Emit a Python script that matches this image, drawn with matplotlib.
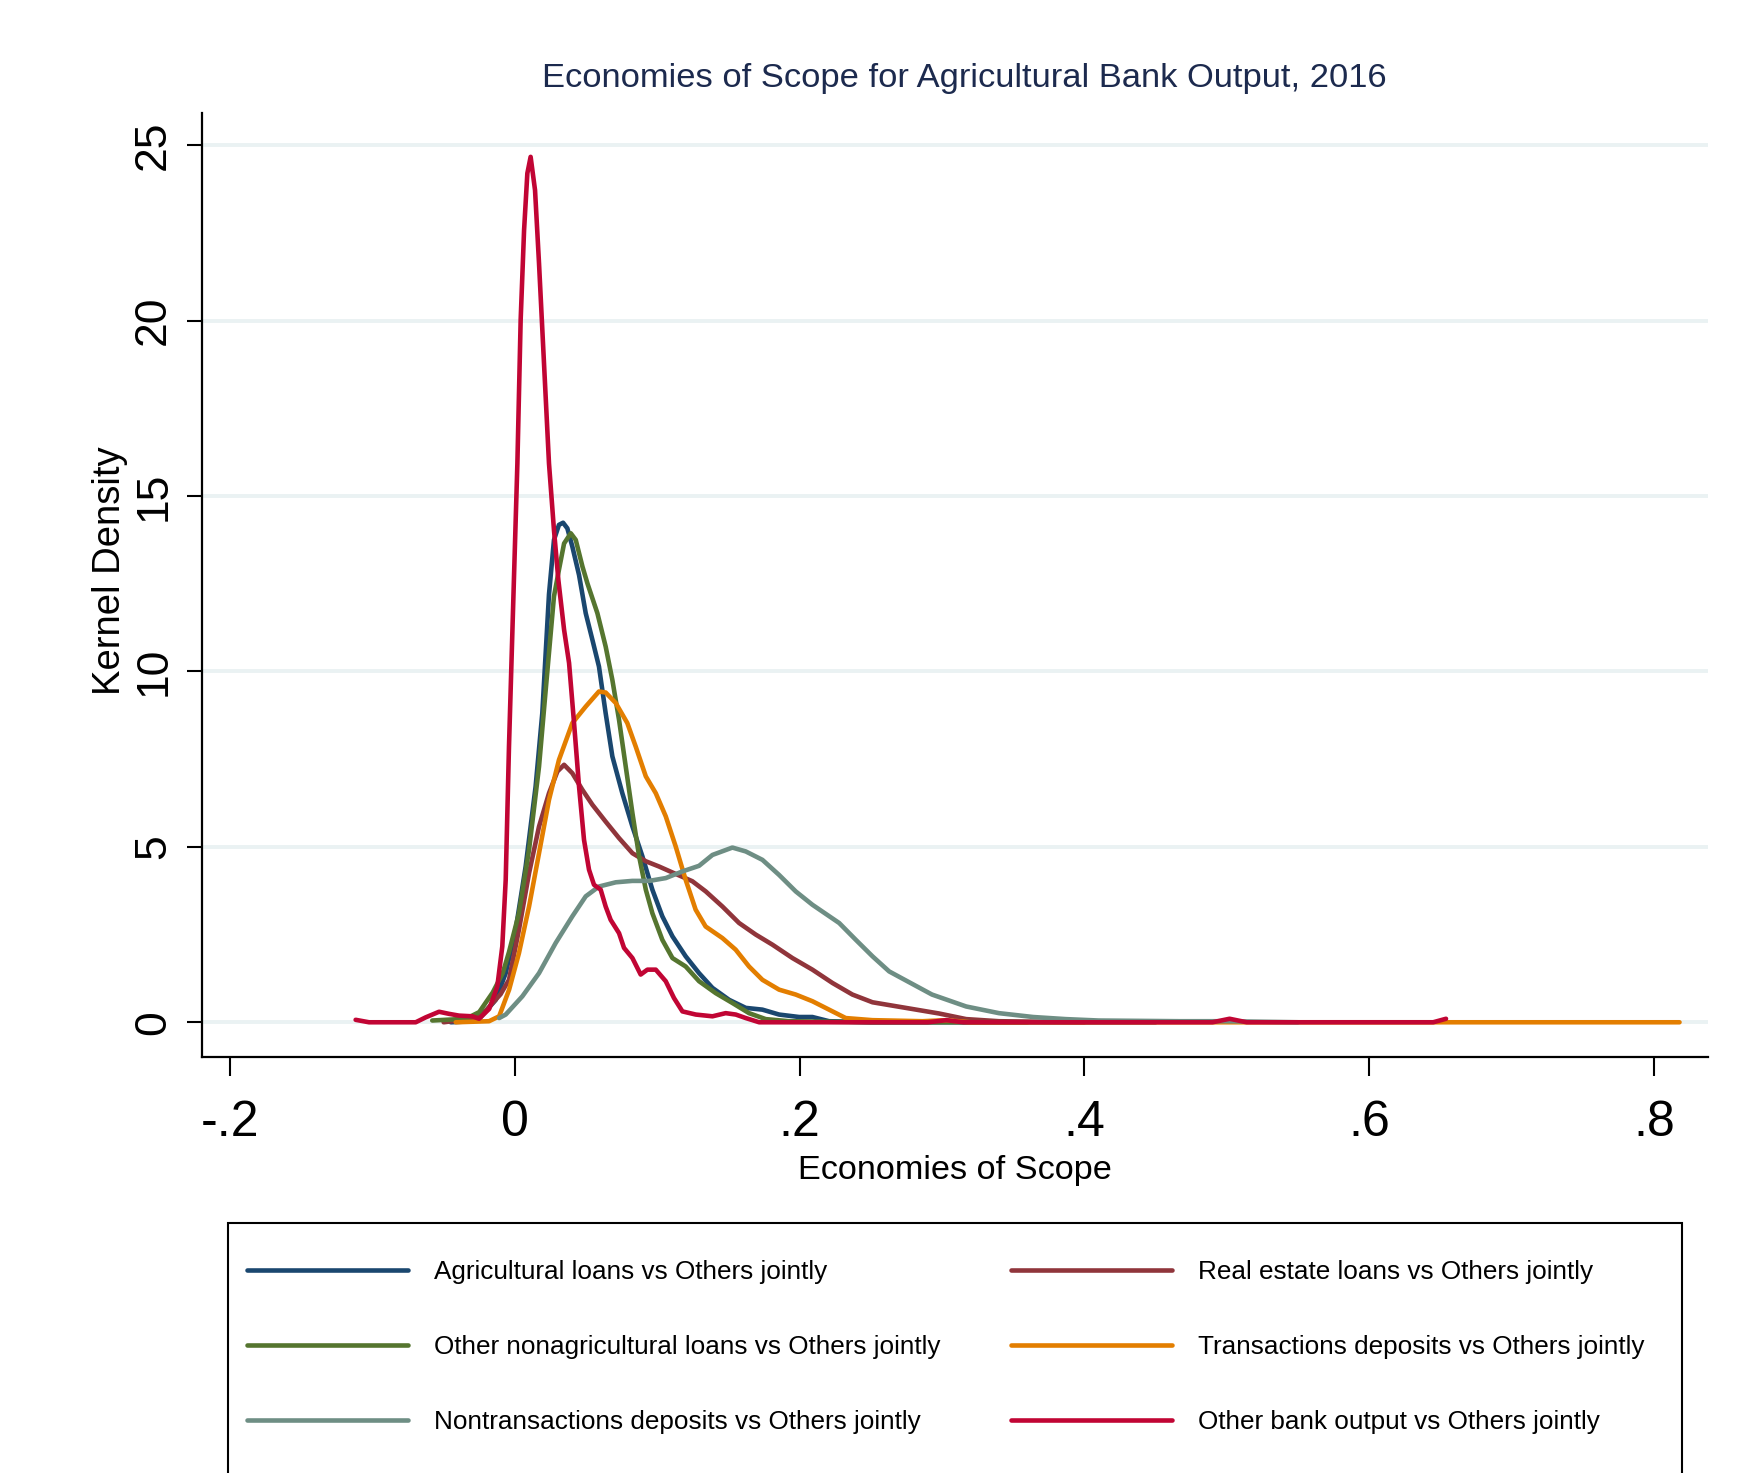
import matplotlib
matplotlib.use("Agg")
import matplotlib.pyplot as plt
from matplotlib.patches import Rectangle

plt.rcParams['font.family'] = ['Liberation Sans', 'DejaVu Sans']

# kernel density curves (x = economies of scope, y = density)
agri_x = [-0.045, -0.035, -0.025, -0.0134, -0.0064, 0.0006, 0.0076, 0.0146, 0.0193, 0.024, 0.0275,
          0.031, 0.0339, 0.0369, 0.0404, 0.0451, 0.0498, 0.0545, 0.0591, 0.0638, 0.0685, 0.0755,
          0.0826, 0.0896, 0.0966, 0.1036, 0.1107, 0.120, 0.1294, 0.1388, 0.1505, 0.1622, 0.1739,
          0.1856, 0.1997, 0.209, 0.2207, 0.25, 0.45]
agri_y = [0.0, 0.02, 0.1, 0.64, 1.40, 2.64, 4.44, 6.72, 8.81, 12.2, 13.75,
          14.18, 14.24, 14.08, 13.56, 12.75, 11.66, 10.90, 10.14, 8.81, 7.58, 6.53,
          5.58, 4.73, 3.78, 3.02, 2.45, 1.88, 1.40, 0.98, 0.64, 0.41, 0.36,
          0.22, 0.15, 0.15, 0.03, 0.0, 0.0]

realest_x = [-0.05, -0.03, -0.02, -0.01, -0.0041, 0.0029, 0.010, 0.017, 0.024, 0.0299, 0.0346,
             0.0404, 0.0474, 0.0545, 0.0638, 0.0732, 0.0826, 0.092, 0.1013, 0.1107, 0.1247,
             0.1341, 0.1458, 0.1575, 0.1692, 0.181, 0.195, 0.209, 0.2231, 0.2371, 0.2512,
             0.2746, 0.298, 0.317, 0.340, 0.40]
realest_y = [0.0, 0.1, 0.35, 0.8, 1.21, 2.64, 4.25, 5.58, 6.53, 7.15, 7.34,
             7.10, 6.63, 6.20, 5.72, 5.25, 4.82, 4.59, 4.44, 4.27, 4.02,
             3.73, 3.30, 2.83, 2.50, 2.21, 1.83, 1.50, 1.12, 0.79, 0.57,
             0.41, 0.25, 0.09, 0.03, 0.0]

nonag_x = [-0.058, -0.0343, -0.025, -0.0155, -0.0085, -0.0041, 0.0029, 0.010, 0.017, 0.0217, 0.0275,
           0.031, 0.0346, 0.0393, 0.0428, 0.0475, 0.051, 0.058, 0.0638, 0.0685, 0.0732, 0.0779,
           0.0826, 0.0873, 0.092, 0.0966, 0.1036, 0.1107, 0.120, 0.1294, 0.1411, 0.1528, 0.1645,
           0.1762, 0.1926, 0.25, 0.36]
nonag_y = [0.05, 0.10, 0.29, 0.85, 1.40, 2.0, 3.11, 4.92, 7.29, 9.48, 12.14,
           12.9, 13.65, 13.94, 13.75, 12.99, 12.51, 11.66, 10.71, 9.76, 8.62, 7.29,
           5.96, 4.73, 3.78, 3.11, 2.35, 1.83, 1.59, 1.17, 0.83, 0.55, 0.26,
           0.09, 0.03, 0.0, 0.0]

trans_x = [-0.0415, -0.0181, -0.011, -0.004, 0.0029, 0.010, 0.017, 0.024, 0.031, 0.0404, 0.0498,
           0.0591, 0.0638, 0.0709, 0.079, 0.0849, 0.092, 0.099, 0.106, 0.113, 0.120, 0.127,
           0.134, 0.1458, 0.1551, 0.1645, 0.1739, 0.1856, 0.1973, 0.209, 0.2207, 0.2324,
           0.2512, 0.2863, 0.303, 0.32, 0.818]
trans_y = [0.0, 0.03, 0.17, 0.93, 1.97, 3.30, 4.82, 6.34, 7.48, 8.53, 9.00,
           9.43, 9.40, 9.10, 8.53, 7.86, 7.01, 6.53, 5.87, 5.01, 4.06, 3.21,
           2.73, 2.40, 2.07, 1.59, 1.21, 0.93, 0.79, 0.60, 0.36, 0.12,
           0.06, 0.03, 0.06, 0.0, 0.0]

nontrans_x = [-0.011, -0.0064, 0.0053, 0.017, 0.0287, 0.0404, 0.0498, 0.0591, 0.0709, 0.0825, 0.0943,
              0.106, 0.1177, 0.1294, 0.1388, 0.1528, 0.1622, 0.1739, 0.1856, 0.1973, 0.209,
              0.2278, 0.2395, 0.2512, 0.2629, 0.272, 0.293, 0.317, 0.340, 0.364, 0.387,
              0.410, 0.467, 0.50, 0.55]
nontrans_y = [0.12, 0.22, 0.74, 1.40, 2.26, 3.02, 3.59, 3.87, 3.99, 4.03, 4.03,
              4.11, 4.30, 4.46, 4.77, 4.98, 4.87, 4.63, 4.20, 3.73, 3.35,
              2.83, 2.35, 1.88, 1.45, 1.25, 0.79, 0.45, 0.26, 0.15, 0.09,
              0.05, 0.03, 0.03, 0.0]

other_x = [-0.1118, -0.1024, -0.0696, -0.0626, -0.0532, -0.0462, -0.0392, -0.0298, -0.0251, -0.018,
           -0.0123, -0.0088, -0.0064, -0.0041, -0.0006, 0.0018, 0.0041, 0.0065, 0.0088, 0.0111,
           0.0142, 0.017, 0.0205, 0.024, 0.0275, 0.0306, 0.0346, 0.0381, 0.0416, 0.0451,
           0.0486, 0.0521, 0.0556, 0.0603, 0.0638, 0.0673, 0.0732, 0.0767, 0.0826, 0.0884,
           0.0931, 0.099, 0.106, 0.1118, 0.1177, 0.1271, 0.1388, 0.1481, 0.1552, 0.1622,
           0.1716, 0.20, 0.29, 0.303, 0.315, 0.49, 0.502, 0.514, 0.645, 0.654]
other_y = [0.07, 0.0, 0.0, 0.14, 0.30, 0.24, 0.19, 0.17, 0.10, 0.38,
           1.02, 2.16, 4.06, 7.86, 12.66, 15.93, 20.02, 22.58, 24.20, 24.67,
           23.72, 21.63, 18.78, 15.93, 14.03, 12.6, 11.19, 10.24, 8.53, 6.72,
           5.20, 4.35, 3.92, 3.78, 3.30, 2.92, 2.54, 2.12, 1.83, 1.36,
           1.50, 1.50, 1.17, 0.69, 0.31, 0.22, 0.17, 0.26, 0.22, 0.12,
           0.0, 0.0, 0.0, 0.06, 0.0, 0.0, 0.1, 0.0, 0.0, 0.1]

labels = ['Agricultural loans vs Others jointly',
          'Real estate loans vs Others jointly',
          'Other nonagricultural loans vs Others jointly',
          'Transactions deposits vs Others jointly',
          'Nontransactions deposits vs Others jointly',
          'Other bank output vs Others jointly']
colors = ['#1a476f', '#90353b', '#55752f', '#e37e00', '#6e8e84', '#c10534']
xticks = [-0.2, 0, 0.2, 0.4, 0.6, 0.8]
xticklabels = ['-.2', '0', '.2', '.4', '.6', '.8']
yticks = [0, 5, 10, 15, 20, 25]

series = [(agri_x, agri_y), (realest_x, realest_y), (nonag_x, nonag_y),
          (trans_x, trans_y), (nontrans_x, nontrans_y), (other_x, other_y)]

W, H = 1762, 1473
fig = plt.figure(figsize=(W / 100, H / 100), dpi=100)
ax = fig.add_axes([202 / W, 1 - 1057 / H, (1708 - 202) / W, (1057 - 113) / H])

lines = []
for (x, y), lab, c in zip(series, labels, colors):
    ln, = ax.plot(x, y, color=c, lw=3.3, label=lab, solid_joinstyle='round',
                  solid_capstyle='round', zorder=3)
    lines.append(ln)

ax.set_xlim(-0.2197, 0.838)
ax.set_ylim(-0.99, 25.92)
ax.set_xticks(xticks, xticklabels, fontsize=36)
ax.set_yticks(yticks, [str(t) for t in yticks], fontsize=32, rotation=90, va='center')
ax.tick_params(axis='x', direction='out', length=14, width=1.5, pad=17)
ax.tick_params(axis='y', direction='out', length=11, width=1.5, pad=9)
ax.grid(axis='y', color='#eaf2f3', lw=2.8, zorder=0)
ax.set_axisbelow(True)
for s in ['top', 'right']:
    ax.spines[s].set_visible(False)
for s in ['left', 'bottom']:
    ax.spines[s].set_linewidth(1.6)

ax.set_xlabel('Economies of Scope', fontsize=24.7, va='center')
ax.xaxis.set_label_coords(0.5, -0.12)
ax.set_ylabel('Kernel Density', fontsize=27.5, va='center')
ax.yaxis.set_label_coords(-0.061, 0.515)

fig.text(964 / W, 1 - 79 / H, 'Economies of Scope for Agricultural Bank Output, 2016',
         fontsize=24.8, color='#1c2a4e', ha='center', va='center')

# legend box
fig.patches.append(Rectangle((228 / W, 1 - 1476 / H), (1682 - 228) / W, (1476 - 1223) / H,
                             transform=fig.transFigure, fill=False, ec='black', lw=1.5))
order = [[0, 2, 4], [1, 3, 5]]
for col, x0 in zip(order, [247, 1011]):
    fig.legend([lines[i] for i in col], [labels[i] for i in col], loc='upper left',
               bbox_to_anchor=(x0 / W, 1 - 1260 / H), frameon=False, fontsize=18.8,
               handlelength=6.15, handletextpad=1.03, labelspacing=1.95,
               borderpad=0, borderaxespad=0)

fig.savefig('out.png', dpi=100)
